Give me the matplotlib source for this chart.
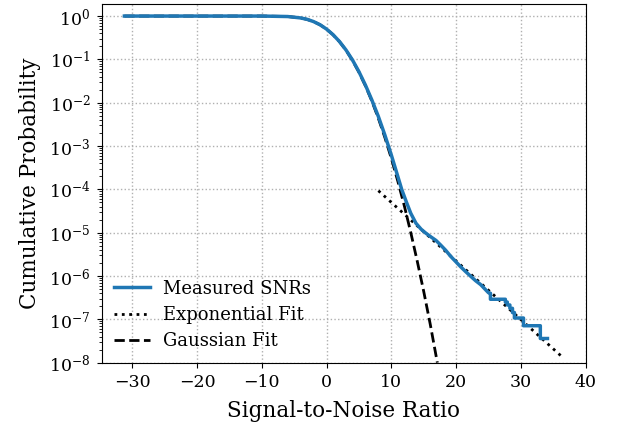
import matplotlib
matplotlib.use('Agg')
import matplotlib.pyplot as plt
import numpy as np
from matplotlib.ticker import LogLocator, NullFormatter

plt.rcParams['font.family'] = ['DejaVu Serif']
plt.rcParams['mathtext.fontset'] = 'dejavuserif'

# measured SNR complementary CDF
snr_x = [-31.2, -10, -6, -4, -3, -2, -1, 0, 1, 2, 3, 4, 5, 6, 7, 8, 9, 10,
         10.7, 11.6, 12.3, 13.0, 13.8, 14.6, 15.3, 16.1, 16.9, 17.6, 18.4,
         19.2, 20.0, 20.7, 21.5, 22.2, 23.0, 23.8, 24.5, 25.0,
         25.3, 25.3, 27.6, 27.6, 27.9, 27.9, 28.3, 28.3, 28.7, 28.7,
         29.0, 29.0, 30.4, 30.4, 33.0, 33.0, 34.1]
snr_p = [1.0, 1.0, 0.975, 0.905, 0.84, 0.745, 0.63, 0.5, 0.372, 0.258,
         0.165, 0.097, 0.052, 0.0255, 0.0115, 0.0048, 0.0018, 6.2e-4,
         2.8e-4, 1.0e-4, 5.2e-5, 2.8e-5, 1.65e-5, 1.2e-5, 9.8e-6, 8.0e-6,
         6.6e-6, 5.2e-6, 3.9e-6, 2.8e-6, 2.1e-6, 1.63e-6, 1.25e-6, 1.0e-6,
         7.8e-7, 6.3e-7, 4.9e-7, 4.1e-7,
         4.0e-7, 2.9e-7, 2.9e-7, 2.5e-7, 2.5e-7, 2.14e-7, 2.14e-7, 1.79e-7,
         1.79e-7, 1.43e-7, 1.43e-7, 1.07e-7, 1.07e-7, 7.1e-8, 7.1e-8,
         3.6e-8, 3.6e-8]

# exponential tail fit
exp_x = [8.0, 36.5]
exp_p = [9.3e-5, 1.3e-8]

# gaussian fit
gauss_x = [-31.2, -10, -6, -4, -3, -2, -1, 0, 1, 2, 3, 4, 5, 6, 7, 8, 9,
           10, 11, 12, 13, 14, 15, 16, 17.1]
gauss_p = [1.0, 1.0, 0.976, 0.905, 0.837, 0.744, 0.629, 0.5, 0.371, 0.256,
           0.163, 0.0949, 0.0506, 0.0246, 0.0109, 0.00436, 0.00158, 5.2e-4,
           1.55e-4, 4.2e-5, 1.01e-5, 2.2e-6, 4.4e-7, 7.8e-8, 1.0e-8]

fig, ax = plt.subplots(figsize=(6.18, 4.28), dpi=100)
fig.subplots_adjust(left=0.1646, right=0.9477, top=0.9907, bottom=0.1528)

ax.plot(snr_x, snr_p, color='#1f77b4', lw=2.5, label='Measured SNRs', zorder=3)
ax.plot(exp_x, exp_p, color='black', lw=2, ls=':', label='Exponential Fit', zorder=2)
ax.plot(gauss_x, gauss_p, color='black', lw=2, ls='--', label='Gaussian Fit', zorder=2)

ax.set_yscale('log')
ax.set_xlim(-34.7, 40.0)
ax.set_ylim(1e-8, 1.9)
ax.set_yticks([10.0 ** k for k in range(-8, 1)])
ax.yaxis.set_minor_locator(LogLocator(base=10, subs=np.arange(2, 10), numticks=100))
ax.yaxis.set_minor_formatter(NullFormatter())
ax.grid(True, which='major', linestyle=':', color='#b0b0b0', linewidth=1.0)
ax.tick_params(labelsize=12.5, pad=4.5)

ax.set_xlabel('Signal-to-Noise Ratio', fontsize=15.5, labelpad=7)
ax.set_ylabel('Cumulative Probability', fontsize=15.5, labelpad=6)
ax.legend(loc='lower left', frameon=False, fontsize=13, labelspacing=0.45,
          handletextpad=0.7, borderaxespad=0.3)

fig.savefig('out.png', dpi=100)
